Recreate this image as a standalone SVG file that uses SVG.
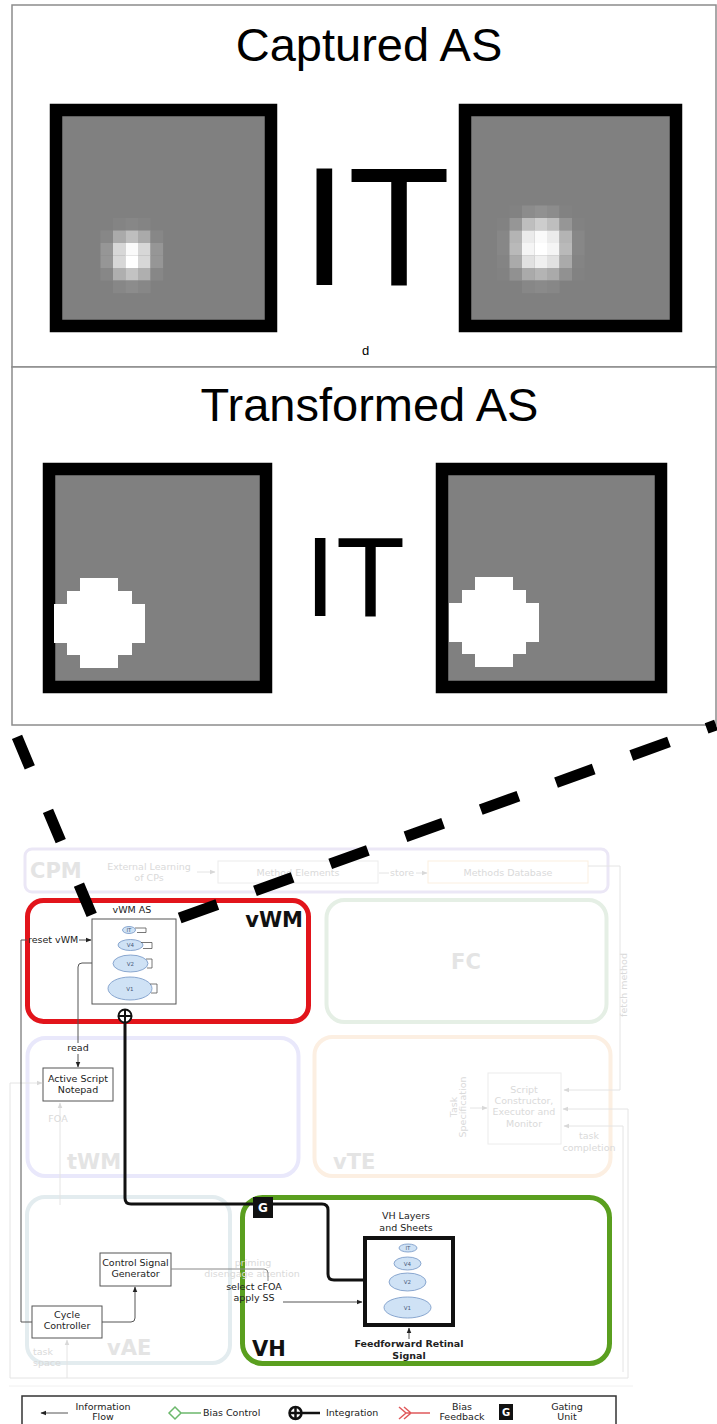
<svg xmlns="http://www.w3.org/2000/svg" width="717" height="1424" viewBox="0 0 717 1424">
<defs>
<style>
.panel{fill:#fff;stroke:#8c8c8c;stroke-width:1.5}
.title{font-family:"Liberation Sans",Arial,sans-serif;font-size:47px;fill:#000;text-anchor:middle}
.bigIT{font-family:"Liberation Sans",Arial,sans-serif;fill:#000}
.frame{fill:#808080;stroke:#000;stroke-width:12.5}
.t{font-family:"DejaVu Sans",Verdana,sans-serif;font-size:9.5px;fill:#222}
.tc{text-anchor:middle}
.fa{fill:#dadada}
.big{font-family:"DejaVu Sans",Verdana,sans-serif;font-weight:bold;font-size:21px}
.bigf{fill:#e4e4e4}
.box{fill:#fff;stroke:#555;stroke-width:1}
.fbox{fill:none;stroke:#ececec;stroke-width:1}
.fline{fill:none;stroke:#e4e4e4;stroke-width:1}
.line{fill:none;stroke:#555;stroke-width:1}
.layer{fill:#cfe2f5;stroke:#7294c4;stroke-width:0.8}
.lt{font-family:"DejaVu Sans",sans-serif;font-size:5.5px;fill:#4a5a7a;text-anchor:middle}
.loop{fill:none;stroke:#555;stroke-width:0.8}
.dash{fill:none;stroke:#000;stroke-width:11}
.zone{fill:none;stroke-width:4}
</style>
<marker id="ah" viewBox="0 0 10 10" refX="9" refY="5" markerWidth="6" markerHeight="6" orient="auto-start-reverse"><path d="M0,1 L10,5 L0,9 z" fill="#222"/></marker>
<marker id="ahf" viewBox="0 0 10 10" refX="9" refY="5" markerWidth="6" markerHeight="6" orient="auto-start-reverse"><path d="M0,1 L10,5 L0,9 z" fill="#d8d8d8"/></marker>
</defs>
<rect width="717" height="1424" fill="#fff"/>

<!-- Panel 1: captured attention sheets -->
<g id="panel-captured">
<rect class="panel" x="12" y="5" width="704" height="362"/>
<text class="title" x="369" y="61">Captured AS</text>
<rect class="frame" x="56" y="110" width="215" height="216"/>
<rect class="frame" x="465" y="110" width="211" height="216"/>
<g id="blob-left">
<rect x="113" y="218" width="12.6" height="12.6" fill="#848484"/>
<rect x="125.5" y="218" width="12.6" height="12.6" fill="#878787"/>
<rect x="138" y="218" width="12.6" height="12.6" fill="#848484"/>
<rect x="100.5" y="230.5" width="12.6" height="12.6" fill="#878787"/>
<rect x="113" y="230.5" width="12.6" height="12.6" fill="#aaaaaa"/>
<rect x="125.5" y="230.5" width="12.6" height="12.6" fill="#bebebe"/>
<rect x="138" y="230.5" width="12.6" height="12.6" fill="#aaaaaa"/>
<rect x="150.5" y="230.5" width="12.6" height="12.6" fill="#878787"/>
<rect x="100.5" y="243" width="12.6" height="12.6" fill="#969696"/>
<rect x="113" y="243" width="12.6" height="12.6" fill="#d7d7d7"/>
<rect x="125.5" y="243" width="12.6" height="12.6" fill="#fafafa"/>
<rect x="138" y="243" width="12.6" height="12.6" fill="#d7d7d7"/>
<rect x="150.5" y="243" width="12.6" height="12.6" fill="#969696"/>
<rect x="100.5" y="255.5" width="12.6" height="12.6" fill="#969696"/>
<rect x="113" y="255.5" width="12.6" height="12.6" fill="#d7d7d7"/>
<rect x="125.5" y="255.5" width="12.6" height="12.6" fill="#ffffff"/>
<rect x="138" y="255.5" width="12.6" height="12.6" fill="#d7d7d7"/>
<rect x="150.5" y="255.5" width="12.6" height="12.6" fill="#969696"/>
<rect x="100.5" y="268" width="12.6" height="12.6" fill="#878787"/>
<rect x="113" y="268" width="12.6" height="12.6" fill="#afafaf"/>
<rect x="125.5" y="268" width="12.6" height="12.6" fill="#c3c3c3"/>
<rect x="138" y="268" width="12.6" height="12.6" fill="#afafaf"/>
<rect x="150.5" y="268" width="12.6" height="12.6" fill="#878787"/>
<rect x="113" y="280.5" width="12.6" height="12.6" fill="#878787"/>
<rect x="125.5" y="280.5" width="12.6" height="12.6" fill="#8c8c8c"/>
<rect x="138" y="280.5" width="12.6" height="12.6" fill="#878787"/>
</g>
<g id="blob-right">
<rect x="509.5" y="205.5" width="12.6" height="12.6" fill="#828282"/>
<rect x="522" y="205.5" width="12.6" height="12.6" fill="#8c8c8c"/>
<rect x="534.5" y="205.5" width="12.6" height="12.6" fill="#919191"/>
<rect x="547" y="205.5" width="12.6" height="12.6" fill="#8c8c8c"/>
<rect x="559.5" y="205.5" width="12.6" height="12.6" fill="#828282"/>
<rect x="497" y="218" width="12.6" height="12.6" fill="#828282"/>
<rect x="509.5" y="218" width="12.6" height="12.6" fill="#969696"/>
<rect x="522" y="218" width="12.6" height="12.6" fill="#bebebe"/>
<rect x="534.5" y="218" width="12.6" height="12.6" fill="#cdcdcd"/>
<rect x="547" y="218" width="12.6" height="12.6" fill="#bebebe"/>
<rect x="559.5" y="218" width="12.6" height="12.6" fill="#969696"/>
<rect x="572" y="218" width="12.6" height="12.6" fill="#828282"/>
<rect x="497" y="230.5" width="12.6" height="12.6" fill="#878787"/>
<rect x="509.5" y="230.5" width="12.6" height="12.6" fill="#b4b4b4"/>
<rect x="522" y="230.5" width="12.6" height="12.6" fill="#ebebeb"/>
<rect x="534.5" y="230.5" width="12.6" height="12.6" fill="#fafafa"/>
<rect x="547" y="230.5" width="12.6" height="12.6" fill="#ebebeb"/>
<rect x="559.5" y="230.5" width="12.6" height="12.6" fill="#b4b4b4"/>
<rect x="572" y="230.5" width="12.6" height="12.6" fill="#878787"/>
<rect x="497" y="243" width="12.6" height="12.6" fill="#878787"/>
<rect x="509.5" y="243" width="12.6" height="12.6" fill="#b9b9b9"/>
<rect x="522" y="243" width="12.6" height="12.6" fill="#f5f5f5"/>
<rect x="534.5" y="243" width="12.6" height="12.6" fill="#ffffff"/>
<rect x="547" y="243" width="12.6" height="12.6" fill="#f5f5f5"/>
<rect x="559.5" y="243" width="12.6" height="12.6" fill="#b9b9b9"/>
<rect x="572" y="243" width="12.6" height="12.6" fill="#878787"/>
<rect x="497" y="255.5" width="12.6" height="12.6" fill="#848484"/>
<rect x="509.5" y="255.5" width="12.6" height="12.6" fill="#aaaaaa"/>
<rect x="522" y="255.5" width="12.6" height="12.6" fill="#e1e1e1"/>
<rect x="534.5" y="255.5" width="12.6" height="12.6" fill="#f0f0f0"/>
<rect x="547" y="255.5" width="12.6" height="12.6" fill="#e1e1e1"/>
<rect x="559.5" y="255.5" width="12.6" height="12.6" fill="#aaaaaa"/>
<rect x="572" y="255.5" width="12.6" height="12.6" fill="#848484"/>
<rect x="497" y="268" width="12.6" height="12.6" fill="#828282"/>
<rect x="509.5" y="268" width="12.6" height="12.6" fill="#919191"/>
<rect x="522" y="268" width="12.6" height="12.6" fill="#aaaaaa"/>
<rect x="534.5" y="268" width="12.6" height="12.6" fill="#b4b4b4"/>
<rect x="547" y="268" width="12.6" height="12.6" fill="#aaaaaa"/>
<rect x="559.5" y="268" width="12.6" height="12.6" fill="#919191"/>
<rect x="572" y="268" width="12.6" height="12.6" fill="#828282"/>
<rect x="522" y="280.5" width="12.6" height="12.6" fill="#878787"/>
<rect x="534.5" y="280.5" width="12.6" height="12.6" fill="#8a8a8a"/>
<rect x="547" y="280.5" width="12.6" height="12.6" fill="#878787"/>
</g>
<text class="bigIT" x="301" y="285" font-size="168">IT</text>
<text x="362" y="355" font-family="Liberation Sans, Arial, sans-serif" font-size="13" fill="#000">d</text>
</g>

<!-- Panel 2: transformed attention sheets -->
<g id="panel-transformed">
<rect class="panel" x="12" y="367" width="704" height="358"/>
<text class="title" x="369.5" y="421">Transformed AS</text>
<rect class="frame" x="49" y="469" width="217" height="218"/>
<rect class="frame" x="442" y="469" width="219" height="218"/>
<path fill="#fff" d="M80,578 H118 V591 H132 V604 H145 V643 H132 V655 H118 V668 H80 V655 H67 V643 H54 V604 H67 V591 H80 Z"/>
<path fill="#fff" d="M475,577 H513 V590 H526 V603 H539 V642 H526 V654 H513 V667 H475 V654 H462 V642 H449 V603 H462 V590 H475 Z"/>
<text class="bigIT" x="304.5" y="616" font-size="113">IT</text>
</g>

<!-- Architecture overview -->
<g id="cpm">
<rect x="25" y="849" width="583" height="43" rx="7" fill="none" stroke="#ebe7f6" stroke-width="3"/>
<text class="big bigf" x="30" y="878">CPM</text>
<text class="t tc fa" x="149" y="870">External Learning</text>
<text class="t tc fa" x="149" y="881">of CPs</text>
<rect class="fbox" x="218" y="861" width="160" height="22"/>
<text class="t tc fa" x="298" y="876">Method Elements</text>
<text class="t tc fa" x="402" y="876">store</text>
<rect x="428" y="861" width="160" height="22" fill="none" stroke="#fbefe0" stroke-width="1"/>
<text class="t tc fa" x="508" y="876">Methods Database</text>
</g>

<g id="vwm">
<rect x="27.5" y="900.5" width="281" height="121" rx="16" fill="none" stroke="#e2141b" stroke-width="5"/>
<text class="big" x="303" y="927" text-anchor="end" fill="#111">vWM</text>
</g>

<g id="vwm-as">
<text class="t tc" x="132" y="913">vWM AS</text>
<rect class="box" x="92" y="919" width="84" height="85" stroke="#666"/>
<ellipse class="layer" cx="129" cy="930" rx="6.5" ry="3.5"/>
<text class="lt" x="129" y="932">IT</text>
<path class="loop" d="M135,928 H146 V932.5 H137"/>
<ellipse class="layer" cx="130.5" cy="945" rx="12.5" ry="5.5"/>
<text class="lt" x="130.5" y="947">V4</text>
<path class="loop" d="M141,942.5 H152 V948.5 H143"/>
<ellipse class="layer" cx="130.5" cy="963.5" rx="17.5" ry="8.5"/>
<text class="lt" x="130.5" y="965.5">V2</text>
<path class="loop" d="M146,959 H152 V968 H147"/>
<ellipse class="layer" cx="130" cy="988.5" rx="22" ry="11.5"/>
<text class="lt" x="130" y="990.5">V1</text>
<path class="loop" d="M150,984 H157 V993 H151"/>
</g>

<g id="integration">
<circle cx="125" cy="1016" r="6.5" fill="#fff" stroke="#111" stroke-width="2"/>
<path d="M118.5,1016 H131.5 M125,1009.5 V1022.5" stroke="#111" stroke-width="2"/>
</g>

<g id="fc">
<rect class="zone" x="326.5" y="900" width="280" height="122" rx="18" stroke="#e5efe5"/>
<text class="big bigf tc" x="466" y="969">FC</text>
</g>

<g id="twm">
<rect class="zone" x="27.5" y="1038" width="271" height="138" rx="18" stroke="#e9e8fb"/>
<text class="big bigf" x="67" y="1169">tWM</text>
</g>

<g id="notepad">
<rect class="box" x="43" y="1068" width="70" height="33" stroke="#444"/>
<text class="t tc" x="78" y="1082">Active Script</text>
<text class="t tc" x="78" y="1093">Notepad</text>
</g>

<g id="vte">
<rect class="zone" x="314.5" y="1037" width="296" height="139" rx="18" stroke="#fcefe2"/>
<text class="big bigf" x="333" y="1169">vTE</text>
<text class="t tc fa" transform="translate(457,1107) rotate(-90)">Task</text>
<text class="t tc fa" transform="translate(466,1107) rotate(-90)">Specification</text>
</g>

<g id="script">
<rect class="fbox" x="488" y="1073" width="73" height="71"/>
<text class="t tc fa" x="524" y="1093">Script</text>
<text class="t tc fa" x="524" y="1104">Constructor,</text>
<text class="t tc fa" x="524" y="1115">Executor and</text>
<text class="t tc fa" x="524" y="1127">Monitor</text>
</g>

<g id="vae">
<rect class="zone" x="27" y="1197" width="203" height="166" rx="18" stroke="#e3ecef"/>
<text class="big bigf" x="107" y="1355">vAE</text>
<text class="t fa" x="33" y="1355">task</text>
<text class="t fa" x="33" y="1366">space</text>
</g>

<g id="csg">
<rect class="box" x="100" y="1253" width="71" height="33"/>
<text class="t tc" x="135.5" y="1266">Control Signal</text>
<text class="t tc" x="135.5" y="1277">Generator</text>
</g>

<g id="cycle">
<rect class="box" x="32" y="1306" width="70" height="32"/>
<text class="t tc" x="67" y="1318">Cycle</text>
<text class="t tc" x="67" y="1329">Controller</text>
</g>

<g id="vh">
<rect x="242.5" y="1197.5" width="367" height="166" rx="20" fill="none" stroke="#5a9f1f" stroke-width="5"/>
<text class="big" x="252" y="1356" font-size="20" fill="#111">VH</text>
</g>

<g id="vh-layers">
<text class="t tc" x="406" y="1219">VH Layers</text>
<text class="t tc" x="406" y="1231">and Sheets</text>
<rect x="365" y="1238" width="88" height="87" fill="#fff" stroke="#111" stroke-width="4"/>
<ellipse class="layer" cx="408" cy="1248" rx="9" ry="4"/>
<text class="lt" x="408" y="1250">IT</text>
<ellipse class="layer" cx="407.5" cy="1263.5" rx="13.5" ry="6.5"/>
<text class="lt" x="407.5" y="1265.5">V4</text>
<ellipse class="layer" cx="407.5" cy="1282" rx="18.5" ry="9"/>
<text class="lt" x="407.5" y="1284">V2</text>
<ellipse class="layer" cx="407.5" cy="1307.5" rx="23.5" ry="10.5"/>
<text class="lt" x="407.5" y="1309.5">V1</text>
<text class="t tc" x="409" y="1347" font-weight="bold">Feedforward Retinal</text>
<text class="t tc" x="409" y="1359" font-weight="bold">Signal</text>
</g>

<g id="connectors">
<!-- faded background flows -->
<path class="fline" d="M197,872 H215" marker-end="url(#ahf)"/>
<path class="fline" d="M379,873 H389 M416,873 H427" marker-end="url(#ahf)"/>
<path class="fline" d="M588,866 H620 V1090 H564" marker-end="url(#ahf)"/>
<path class="fline" d="M470,1108 H487" marker-end="url(#ahf)"/>
<path class="fline" d="M563,1109 H628 V1378 H10 V1083 H42" marker-start="url(#ahf)" marker-end="url(#ahf)"/>
<path class="fline" d="M623,1372 V1126 H564" marker-end="url(#ahf)"/>
<text class="t tc fa" x="589" y="1139">task</text>
<text class="t tc fa" x="589" y="1151">completion</text>
<path class="fline" d="M67,1378 V1340" marker-end="url(#ahf)"/>
<path class="fline" d="M60,1205 V1103" marker-end="url(#ahf)"/>
<text class="t tc fa" x="58" y="1122">FOA</text>
<text class="t tc fa" transform="translate(627,985) rotate(-90)">fetch method</text>
<text class="t tc fa" x="253" y="1266">priming</text>
<text class="t tc fa" x="252" y="1277">disengage attention</text>
<path d="M9,1386 H633" stroke="#f0f0f0" stroke-width="1"/>
<!-- active flows -->
<path class="line" d="M32,1322 H21 V940 H27"/>
<text class="t" x="28" y="943">reset vWM</text>
<path class="line" d="M79,940 H91" marker-end="url(#ah)"/>
<path class="line" d="M92,963 H82 Q78,963 78,967 V1043"/>
<text class="t tc" x="78" y="1051">read</text>
<path class="line" d="M78,1054 V1067" marker-end="url(#ah)"/>
<path d="M125,1022.5 V1198 Q125,1204 131,1204 H322 Q328,1204 328,1210 V1274 Q328,1280 334,1280 H364" fill="none" stroke="#111" stroke-width="3"/>
<path class="line" d="M102,1322 H131 Q135,1322 135,1318 V1287" marker-end="url(#ah)"/>
<path d="M171,1269 H264 Q268,1269 268,1273 V1281" fill="none" stroke="#888" stroke-width="1"/>
<text class="t tc" x="254" y="1290">select cFOA</text>
<text class="t tc" x="254" y="1301">apply SS</text>
<path class="line" d="M283,1302 H362" marker-end="url(#ah)"/>
<path class="line" d="M409,1339 V1328" marker-end="url(#ah)"/>
</g>

<g id="gate">
<rect x="253" y="1197" width="20" height="21" fill="#111"/>
<text x="263" y="1212" font-family="DejaVu Sans, sans-serif" font-weight="bold" font-size="12" fill="#fff" text-anchor="middle">G</text>
</g>

<g id="legend">
<rect x="22" y="1396" width="594" height="40" fill="#fff" stroke="#333" stroke-width="1.5"/>
<path class="line" d="M68,1413 H41" marker-end="url(#ah)"/>
<text class="t tc" x="103" y="1410">Information</text>
<text class="t tc" x="103" y="1420">Flow</text>
<path d="M169,1413 L175,1407 L181,1413 L175,1419 Z M181,1413 H201" fill="#fff" stroke="#6cb86c" stroke-width="1.5"/>
<text class="t" x="203" y="1416">Bias Control</text>
<circle cx="295.5" cy="1413" r="6" fill="#fff" stroke="#111" stroke-width="2.5"/>
<path d="M289.5,1413 H320 M295.5,1407 V1419" stroke="#111" stroke-width="2.5"/>
<text class="t" x="326" y="1416">Integration</text>
<path d="M399,1407 L406,1413 L399,1419 M404,1407 L411,1413 L404,1419 M406,1413 H430" fill="none" stroke="#e05a5c" stroke-width="1.5"/>
<text class="t tc" x="462" y="1410">Bias</text>
<text class="t tc" x="462" y="1420">Feedback</text>
<rect x="499" y="1404" width="14" height="16" fill="#111"/>
<text x="506" y="1416" font-family="DejaVu Sans, sans-serif" font-weight="bold" font-size="10" fill="#fff" text-anchor="middle">G</text>
<text class="t tc" x="567" y="1410">Gating</text>
<text class="t tc" x="567" y="1420">Unit</text>
</g>

<!-- zoom guides linking the vWM attention sheet to the panels above -->
<g id="zoom-guides">
<line class="dash" x1="12" y1="725" x2="93" y2="918" stroke-dasharray="33 47" stroke-dashoffset="67"/>
<line class="dash" x1="716" y1="725" x2="177" y2="919" stroke-dasharray="40 40" stroke-dashoffset="30"/>
</g>
</svg>
